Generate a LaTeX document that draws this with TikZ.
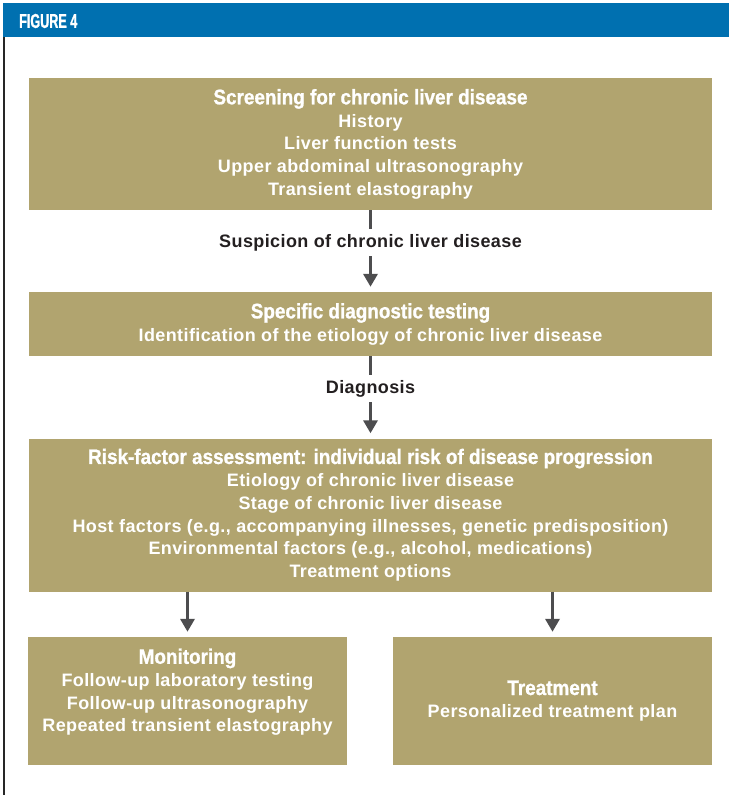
\documentclass[tikz,border=0pt]{standalone}
\usepackage{fontspec}
\setmainfont{Liberation Sans}
\newfontfamily\figfam[FakeStretch=0.63,FakeBold=1]{Liberation Sans Bold}
\newfontfamily\headfam[FakeStretch=0.9,FakeBold=1]{Liberation Sans Bold}
\newfontfamily\bodyfam[LetterSpace=2.2]{Liberation Sans}
\usetikzlibrary{arrows.meta}
\definecolor{figblue}{RGB}{0,112,176}
\definecolor{boxtan}{RGB}{177,164,111}
\definecolor{arrowgray}{RGB}{77,77,79}
\definecolor{labeltext}{RGB}{35,31,32}
\newcommand{\hd}[1]{{\headfam\fontsize{21}{22.7}\selectfont #1}}
\tikzset{
  box/.style={fill=boxtan, text=white, align=center, inner sep=0pt,
    font=\bodyfam\bfseries\fontsize{18}{22.7}\selectfont},
  lab/.style={text=labeltext, inner sep=0pt, minimum height=27pt,
    font=\bodyfam\bfseries\fontsize{18}{22.7}\selectfont},
  conn/.style={draw=arrowgray, line width=3.5pt},
  arr/.style={conn, -{Triangle[width=14pt,length=13pt]}, shorten >=5pt},
}
\begin{document}
\begin{tikzpicture}[x=1pt,y=-1pt]
\useasboundingbox (0,0) rectangle (729,795);
\fill[figblue] (3,3) rectangle (729,37);
\node[anchor=west, text=white, inner sep=0pt, font=\figfam\fontsize{20}{22}\selectfont] (fig) at (19,21) {FIGURE 4};
\draw[line width=1.5pt, black!85] (4,37) -- (4,795);

\node[box, minimum width=683pt, minimum height=132pt] (b1) at (370.5,144)
  {\hd{Screening for chronic liver disease}\\History\\Liver function tests\\Upper abdominal ultrasonography\\Transient elastography};
\node[box, minimum width=683pt, minimum height=64pt] (b2) at (370.5,324)
  {\hd{Specific diagnostic testing}\\Identification of the etiology of chronic liver disease};
\node[box, minimum width=683pt, minimum height=153pt] (b3) at (370.5,515)
  {\hd{Risk-factor assessment: individual risk of disease progression}\\Etiology of chronic liver disease\\Stage of chronic liver disease\\Host factors (e.g., accompanying illnesses, genetic predisposition)\\Environmental factors (e.g., alcohol, medications)\\Treatment options};
\node[box, minimum width=319pt, minimum height=128pt] (b4) at (187.5,701)
  {\hd{Monitoring}\\Follow-up laboratory testing\\Follow-up ultrasonography\\Repeated transient elastography\\[-8pt]\strut};
\node[box, minimum width=319pt, minimum height=128pt] (b5) at (552.5,701)
  {\hd{Treatment}\\Personalized treatment plan};

\node[lab] (l1) at (370.5,242.5) {Suspicion of chronic liver disease};
\node[lab] (l2) at (370.5,388.5) {Diagnosis};

\draw[conn] (b1.south) -- (l1.north);
\draw[arr] (l1.south) -- (b2.north);
\draw[conn] (b2.south) -- (l2.north);
\draw[arr] (l2.south) -- (b3.north);
\draw[arr] (b4.north |- b3.south) -- (b4.north);
\draw[arr] (b5.north |- b3.south) -- (b5.north);
\end{tikzpicture}
\end{document}
